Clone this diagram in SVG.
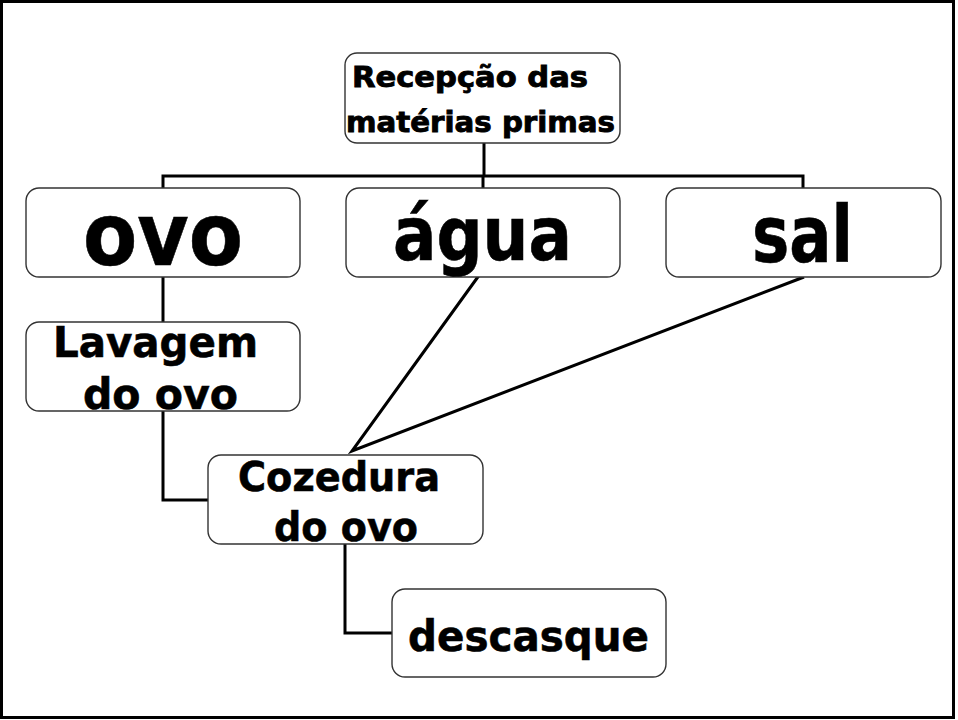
<svg xmlns="http://www.w3.org/2000/svg" width="958" height="720" viewBox="0 0 958 720">
<style>
.box{fill:#fff;stroke:#333;stroke-width:1.4}
.t{font-family:"DejaVu Sans","Liberation Sans",sans-serif;font-weight:bold;fill:#000;stroke:#000;stroke-width:0.6}
.s{stroke-width:0.9}
.c{fill:none;stroke:#000;stroke-width:3}
</style>
<rect x="0" y="0" width="958" height="720" fill="#fff"/>
<rect x="1.5" y="1.5" width="952" height="716" fill="none" stroke="#000" stroke-width="3"/>
<g id="connectors">
<path class="c" d="M484,143 V176"/>
<path class="c" d="M163,188 V176 H803 V188"/>
<path class="c" d="M483,176 V188"/>
<path class="c" d="M163,277 V322"/>
<path class="c" d="M163,411 V500 H208"/>
<path class="c" d="M480,274 L352,451 L804,277"/>
<path class="c" d="M345,544 V633 H392"/>
</g>
<g id="rececao">
<rect class="box" x="345" y="53" width="275" height="90" rx="12"/>
<text class="t s" x="352" y="87" font-size="28" textLength="236" lengthAdjust="spacingAndGlyphs">Recepção das</text>
<text class="t s" x="346" y="132" font-size="28" textLength="269" lengthAdjust="spacingAndGlyphs">matérias primas</text>
</g>
<g id="ovo">
<rect class="box" x="26" y="188" width="274" height="89" rx="13"/>
<text class="t" x="83" y="265" font-size="88" textLength="160" lengthAdjust="spacingAndGlyphs">ovo</text>
</g>
<g id="agua">
<rect class="box" x="346" y="188" width="274" height="89" rx="13"/>
<text class="t" x="393" y="260" font-size="74" textLength="179" lengthAdjust="spacingAndGlyphs">água</text>
</g>
<g id="sal">
<rect class="box" x="666" y="188" width="275" height="89" rx="13"/>
<text class="t" x="752" y="262" font-size="79" textLength="101" lengthAdjust="spacingAndGlyphs">sal</text>
</g>
<g id="lavagem">
<rect class="box" x="26" y="322" width="274" height="89" rx="13"/>
<text class="t" x="53" y="357" font-size="42" textLength="205" lengthAdjust="spacingAndGlyphs">Lavagem</text>
<text class="t" x="83" y="409" font-size="42" textLength="155" lengthAdjust="spacingAndGlyphs">do ovo</text>
</g>
<g id="cozedura">
<rect class="box" x="208" y="455" width="275" height="89" rx="13"/>
<text class="t" x="238" y="491" font-size="41" textLength="202" lengthAdjust="spacingAndGlyphs">Cozedura</text>
<text class="t" x="274" y="541" font-size="41" textLength="144" lengthAdjust="spacingAndGlyphs">do ovo</text>
</g>
<g id="descasque">
<rect class="box" x="392" y="589" width="274" height="88" rx="13"/>
<text class="t" x="408" y="651" font-size="43" textLength="241" lengthAdjust="spacingAndGlyphs">descasque</text>
</g>
</svg>
